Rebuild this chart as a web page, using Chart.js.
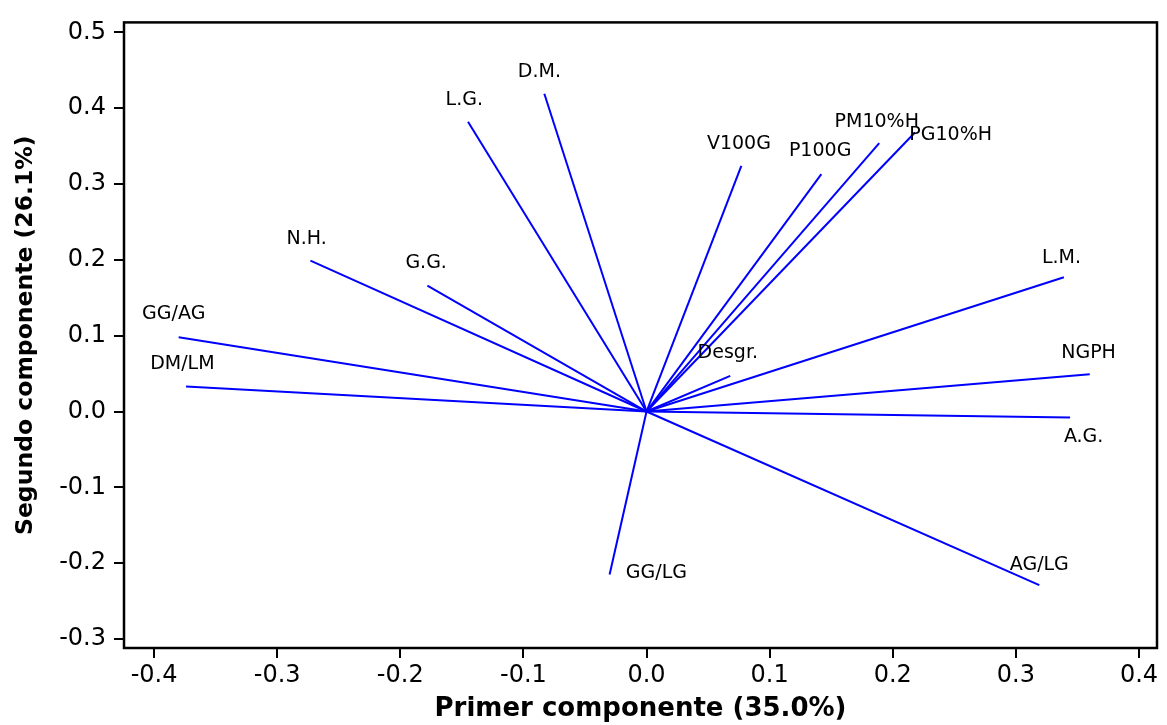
<!DOCTYPE html>
<html>
<head>
<meta charset="utf-8">
<script src="https://cdn.jsdelivr.net/npm/chart.js@4/dist/chart.umd.min.js"></script>
<style>
  html, body { margin: 0; padding: 0; background: #fff; }
  #wrap { width: 1167px; height: 725px; }
</style>
</head>
<body>
<div id="wrap"><canvas id="biplot"></canvas></div>
<script>
// loadings (PC1, PC2) for each variable
const variables = ['D.M.', 'L.G.', 'V100G', 'P100G', 'PM10%H', 'PG10%H', 'L.M.', 'NGPH', 'A.G.',
                   'AG/LG', 'GG/LG', 'Desgr.', 'N.H.', 'G.G.', 'GG/AG', 'DM/LM'];
const pc1 = [-0.083, -0.145, 0.077, 0.142, 0.189, 0.218, 0.339, 0.360, 0.344,
             0.319, -0.030, 0.068, -0.273, -0.178, -0.380, -0.374];
const pc2 = [0.419, 0.382, 0.324, 0.313, 0.354, 0.368, 0.177, 0.049, -0.008,
             -0.229, -0.215, 0.047, 0.199, 0.166, 0.098, 0.033];
// where each label text sits (same units as the axes)
const labelX = [-0.087, -0.148, 0.075, 0.141, 0.187, 0.247, 0.337, 0.359, 0.355,
                0.319, 0.008, 0.066, -0.276, -0.179, -0.384, -0.377];
const labelY = [0.448, 0.411, 0.353, 0.344, 0.382, 0.364, 0.202, 0.077, -0.034,
                -0.203, -0.213, 0.077, 0.228, 0.196, 0.129, 0.062];
const xTicks = [-0.4, -0.3, -0.2, -0.1, 0.0, 0.1, 0.2, 0.3, 0.4];
const yTicks = [-0.3, -0.2, -0.1, 0.0, 0.1, 0.2, 0.3, 0.4, 0.5];

const FONT = '"DejaVu Sans", Verdana, sans-serif';

const datasets = variables.map((name, i) => ({
    label: name,
    data: [{ x: 0, y: 0 }, { x: pc1[i], y: pc2[i] }],
    showLine: true,
    borderColor: '#0000ff',
    borderWidth: 2,
    pointRadius: 0,
    pointHoverRadius: 0
}));

const frameAndLabels = {
    id: 'frameAndLabels',
    afterDatasetsDraw(chart) {
        const { ctx, chartArea: a, scales: { x, y } } = chart;
        ctx.save();
        ctx.font = '19px ' + FONT;
        ctx.fillStyle = '#000';
        ctx.textAlign = 'center';
        ctx.textBaseline = 'middle';
        variables.forEach((name, i) => {
            ctx.fillText(name, x.getPixelForValue(labelX[i]), y.getPixelForValue(labelY[i]));
        });
        ctx.strokeStyle = '#000';
        ctx.lineWidth = 2.5;
        ctx.strokeRect(a.left, a.top, a.right - a.left, a.bottom - a.top);
        ctx.restore();
    }
};

new Chart(document.getElementById('biplot'), {
    type: 'scatter',
    data: { datasets },
    options: {
        responsive: true,
        maintainAspectRatio: false,
        animation: false,
        layout: { padding: { top: 16, right: 10, left: 0, bottom: 0 } },
        plugins: {
            legend: { display: false },
            tooltip: { enabled: false }
        },
        scales: {
            x: {
                type: 'linear',
                min: -0.4244,
                max: 0.4146,
                afterBuildTicks: s => { s.ticks = xTicks.map(v => ({ value: v })); },
                afterFit: s => { s.height = 77; },
                grid: { drawOnChartArea: false, tickLength: 10, color: '#000', lineWidth: 2 },
                border: { display: false },
                ticks: {
                    color: '#000',
                    padding: 3,
                    maxRotation: 0,
                    font: { family: FONT, size: 24 },
                    callback: v => v.toFixed(1)
                },
                title: {
                    display: true,
                    text: 'Primer componente (35.0%)',
                    color: '#000',
                    padding: { top: 0, bottom: 0 },
                    font: { family: FONT, size: 26, weight: 'bold' }
                }
            },
            y: {
                type: 'linear',
                min: -0.3118,
                max: 0.5131,
                afterBuildTicks: s => { s.ticks = yTicks.map(v => ({ value: v })); },
                afterFit: s => { s.width = 124; },
                grid: { drawOnChartArea: false, tickLength: 10, color: '#000', lineWidth: 2 },
                border: { display: false },
                ticks: {
                    color: '#000',
                    padding: 8,
                    font: { family: FONT, size: 24 },
                    callback: v => v.toFixed(1)
                },
                title: {
                    display: true,
                    text: 'Segundo componente (26.1%)',
                    color: '#000',
                    padding: { top: 12, bottom: 0 },
                    font: { family: FONT, size: 23.5, weight: 'bold' }
                }
            }
        }
    },
    plugins: [frameAndLabels]
});
</script>
</body>
</html>
